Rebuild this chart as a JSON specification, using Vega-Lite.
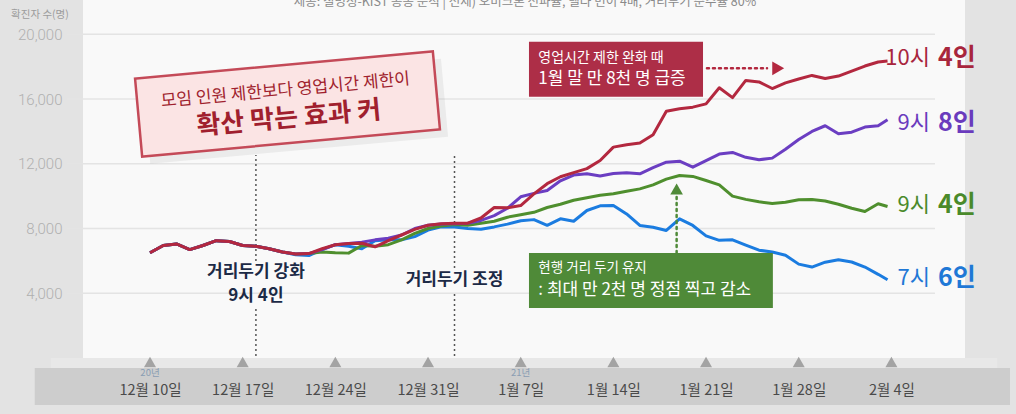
{
  "$schema": "https://vega.github.io/schema/vega-lite/v6.json",
  "width": 882,
  "height": 358,
  "autosize": {"type": "none"},
  "padding": {"left": 83, "top": 0, "right": 51, "bottom": 56},
  "background": "#e3e3e3",
  "config": {"view": {"fill": "#f9f9f9", "stroke": null}, "font": "Noto Sans CJK KR"},
  "datasets": {
    "lines": [
      {"s":"7시 6인","d":"2020-12-10","v":6500},{"s":"7시 6인","d":"2020-12-11","v":6950},{"s":"7시 6인","d":"2020-12-12","v":7050},{"s":"7시 6인","d":"2020-12-13","v":6700},{"s":"7시 6인","d":"2020-12-14","v":6950},{"s":"7시 6인","d":"2020-12-15","v":7250},{"s":"7시 6인","d":"2020-12-16","v":7200},{"s":"7시 6인","d":"2020-12-17","v":6950},{"s":"7시 6인","d":"2020-12-18","v":6900},{"s":"7시 6인","d":"2020-12-19","v":6750},{"s":"7시 6인","d":"2020-12-20","v":6550},
      {"s":"7시 6인","d":"2020-12-21","v":6380},{"s":"7시 6인","d":"2020-12-22","v":6330},{"s":"7시 6인","d":"2020-12-23","v":6700},{"s":"7시 6인","d":"2020-12-24","v":7000},{"s":"7시 6인","d":"2020-12-25","v":6900},{"s":"7시 6인","d":"2020-12-26","v":6750},{"s":"7시 6인","d":"2020-12-27","v":7250},{"s":"7시 6인","d":"2020-12-28","v":7300},{"s":"7시 6인","d":"2020-12-29","v":7300},{"s":"7시 6인","d":"2020-12-30","v":7500},{"s":"7시 6인","d":"2020-12-31","v":7900},
      {"s":"7시 6인","d":"2021-01-01","v":8100},{"s":"7시 6인","d":"2021-01-02","v":8100},{"s":"7시 6인","d":"2021-01-03","v":8000},{"s":"7시 6인","d":"2021-01-04","v":7950},{"s":"7시 6인","d":"2021-01-05","v":8100},{"s":"7시 6인","d":"2021-01-06","v":8270},{"s":"7시 6인","d":"2021-01-07","v":8480},{"s":"7시 6인","d":"2021-01-08","v":8550},{"s":"7시 6인","d":"2021-01-09","v":8200},{"s":"7시 6인","d":"2021-01-10","v":8600},{"s":"7시 6인","d":"2021-01-11","v":8450},{"s":"7시 6인","d":"2021-01-12","v":9115},{"s":"7시 6인","d":"2021-01-13","v":9400},{"s":"7시 6인","d":"2021-01-14","v":9420},{"s":"7시 6인","d":"2021-01-15","v":8900},{"s":"7시 6인","d":"2021-01-16","v":8190},{"s":"7시 6인","d":"2021-01-17","v":8080},{"s":"7시 6인","d":"2021-01-18","v":7880},{"s":"7시 6인","d":"2021-01-19","v":8600},{"s":"7시 6인","d":"2021-01-20","v":8190},{"s":"7시 6인","d":"2021-01-21","v":7550},{"s":"7시 6인","d":"2021-01-22","v":7270},{"s":"7시 6인","d":"2021-01-23","v":7300},{"s":"7시 6인","d":"2021-01-24","v":6970},{"s":"7시 6인","d":"2021-01-25","v":6660},{"s":"7시 6인","d":"2021-01-26","v":6550},{"s":"7시 6인","d":"2021-01-27","v":6350},{"s":"7시 6인","d":"2021-01-28","v":5800},{"s":"7시 6인","d":"2021-01-29","v":5620},{"s":"7시 6인","d":"2021-01-30","v":5920},{"s":"7시 6인","d":"2021-01-31","v":6070},{"s":"7시 6인","d":"2021-02-01","v":5930},{"s":"7시 6인","d":"2021-02-02","v":5620},{"s":"7시 6인","d":"2021-02-03","v":5170},{"s":"7시 6인","d":"2021-02-03T17:00:00Z","v":4830},

      {"s":"9시 4인","d":"2020-12-10","v":6500},{"s":"9시 4인","d":"2020-12-11","v":6950},{"s":"9시 4인","d":"2020-12-12","v":7050},{"s":"9시 4인","d":"2020-12-13","v":6700},{"s":"9시 4인","d":"2020-12-14","v":6950},{"s":"9시 4인","d":"2020-12-15","v":7250},{"s":"9시 4인","d":"2020-12-16","v":7200},{"s":"9시 4인","d":"2020-12-17","v":6950},{"s":"9시 4인","d":"2020-12-18","v":6900},{"s":"9시 4인","d":"2020-12-19","v":6750},{"s":"9시 4인","d":"2020-12-20","v":6550},
      {"s":"9시 4인","d":"2020-12-21","v":6420},{"s":"9시 4인","d":"2020-12-22","v":6450},{"s":"9시 4인","d":"2020-12-23","v":6550},{"s":"9시 4인","d":"2020-12-24","v":6500},{"s":"9시 4인","d":"2020-12-25","v":6480},{"s":"9시 4인","d":"2020-12-26","v":6950},{"s":"9시 4인","d":"2020-12-27","v":6900},{"s":"9시 4인","d":"2020-12-28","v":7000},{"s":"9시 4인","d":"2020-12-29","v":7300},{"s":"9시 4인","d":"2020-12-30","v":7700},{"s":"9시 4인","d":"2020-12-31","v":8000},
      {"s":"9시 4인","d":"2021-01-01","v":8150},{"s":"9시 4인","d":"2021-01-02","v":8250},{"s":"9시 4인","d":"2021-01-03","v":8200},{"s":"9시 4인","d":"2021-01-04","v":8330},{"s":"9시 4인","d":"2021-01-05","v":8450},{"s":"9시 4인","d":"2021-01-06","v":8700},{"s":"9시 4인","d":"2021-01-07","v":8850},{"s":"9시 4인","d":"2021-01-08","v":9000},{"s":"9시 4인","d":"2021-01-09","v":9300},{"s":"9시 4인","d":"2021-01-10","v":9500},{"s":"9시 4인","d":"2021-01-11","v":9750},{"s":"9시 4인","d":"2021-01-12","v":9900},{"s":"9시 4인","d":"2021-01-13","v":10050},{"s":"9시 4인","d":"2021-01-14","v":10150},{"s":"9시 4인","d":"2021-01-15","v":10300},{"s":"9시 4인","d":"2021-01-16","v":10450},{"s":"9시 4인","d":"2021-01-17","v":10700},{"s":"9시 4인","d":"2021-01-18","v":11050},{"s":"9시 4인","d":"2021-01-19","v":11280},{"s":"9시 4인","d":"2021-01-20","v":11220},{"s":"9시 4인","d":"2021-01-21","v":10970},{"s":"9시 4인","d":"2021-01-22","v":10700},{"s":"9시 4인","d":"2021-01-23","v":10000},{"s":"9시 4인","d":"2021-01-24","v":9800},{"s":"9시 4인","d":"2021-01-25","v":9650},{"s":"9시 4인","d":"2021-01-26","v":9550},{"s":"9시 4인","d":"2021-01-27","v":9620},{"s":"9시 4인","d":"2021-01-28","v":9780},{"s":"9시 4인","d":"2021-01-29","v":9800},{"s":"9시 4인","d":"2021-01-30","v":9700},{"s":"9시 4인","d":"2021-01-31","v":9500},{"s":"9시 4인","d":"2021-02-01","v":9250},{"s":"9시 4인","d":"2021-02-02","v":9050},{"s":"9시 4인","d":"2021-02-03","v":9530},{"s":"9시 4인","d":"2021-02-03T17:00:00Z","v":9360},

      {"s":"9시 8인","d":"2020-12-10","v":6500},{"s":"9시 8인","d":"2020-12-11","v":6950},{"s":"9시 8인","d":"2020-12-12","v":7050},{"s":"9시 8인","d":"2020-12-13","v":6700},{"s":"9시 8인","d":"2020-12-14","v":6950},{"s":"9시 8인","d":"2020-12-15","v":7250},{"s":"9시 8인","d":"2020-12-16","v":7200},{"s":"9시 8인","d":"2020-12-17","v":6950},{"s":"9시 8인","d":"2020-12-18","v":6900},{"s":"9시 8인","d":"2020-12-19","v":6750},{"s":"9시 8인","d":"2020-12-20","v":6550},
      {"s":"9시 8인","d":"2020-12-21","v":6420},{"s":"9시 8인","d":"2020-12-22","v":6450},{"s":"9시 8인","d":"2020-12-23","v":6700},{"s":"9시 8인","d":"2020-12-24","v":7000},{"s":"9시 8인","d":"2020-12-25","v":7080},{"s":"9시 8인","d":"2020-12-26","v":7150},{"s":"9시 8인","d":"2020-12-27","v":7300},{"s":"9시 8인","d":"2020-12-28","v":7400},{"s":"9시 8인","d":"2020-12-29","v":7600},{"s":"9시 8인","d":"2020-12-30","v":8000},{"s":"9시 8인","d":"2020-12-31","v":8200},
      {"s":"9시 8인","d":"2021-01-01","v":8280},{"s":"9시 8인","d":"2021-01-02","v":8300},{"s":"9시 8인","d":"2021-01-03","v":8330},{"s":"9시 8인","d":"2021-01-04","v":8500},{"s":"9시 8인","d":"2021-01-05","v":8800},{"s":"9시 8인","d":"2021-01-06","v":9250},{"s":"9시 8인","d":"2021-01-07","v":9960},{"s":"9시 8인","d":"2021-01-08","v":10170},{"s":"9시 8인","d":"2021-01-09","v":10350},{"s":"9시 8인","d":"2021-01-10","v":10950},{"s":"9시 8인","d":"2021-01-11","v":11300},{"s":"9시 8인","d":"2021-01-12","v":11380},{"s":"9시 8인","d":"2021-01-13","v":11250},{"s":"9시 8인","d":"2021-01-14","v":11400},{"s":"9시 8인","d":"2021-01-15","v":11450},{"s":"9시 8인","d":"2021-01-16","v":11380},{"s":"9시 8인","d":"2021-01-17","v":11760},{"s":"9시 8인","d":"2021-01-18","v":12100},{"s":"9시 8인","d":"2021-01-19","v":12160},{"s":"9시 8인","d":"2021-01-20","v":11790},{"s":"9시 8인","d":"2021-01-21","v":12200},{"s":"9시 8인","d":"2021-01-22","v":12600},{"s":"9시 8인","d":"2021-01-23","v":12700},{"s":"9시 8인","d":"2021-01-24","v":12400},{"s":"9시 8인","d":"2021-01-25","v":12250},{"s":"9시 8인","d":"2021-01-26","v":12350},{"s":"9시 8인","d":"2021-01-27","v":12900},{"s":"9시 8인","d":"2021-01-28","v":13500},{"s":"9시 8인","d":"2021-01-29","v":14000},{"s":"9시 8인","d":"2021-01-30","v":14350},{"s":"9시 8인","d":"2021-01-31","v":13850},{"s":"9시 8인","d":"2021-02-01","v":13950},{"s":"9시 8인","d":"2021-02-02","v":14270},{"s":"9시 8인","d":"2021-02-03","v":14350},{"s":"9시 8인","d":"2021-02-03T17:00:00Z","v":14720},

      {"s":"10시 4인","d":"2020-12-10","v":6500},{"s":"10시 4인","d":"2020-12-11","v":6950},{"s":"10시 4인","d":"2020-12-12","v":7050},{"s":"10시 4인","d":"2020-12-13","v":6700},{"s":"10시 4인","d":"2020-12-14","v":6950},{"s":"10시 4인","d":"2020-12-15","v":7250},{"s":"10시 4인","d":"2020-12-16","v":7200},{"s":"10시 4인","d":"2020-12-17","v":6950},{"s":"10시 4인","d":"2020-12-18","v":6900},{"s":"10시 4인","d":"2020-12-19","v":6750},{"s":"10시 4인","d":"2020-12-20","v":6550},
      {"s":"10시 4인","d":"2020-12-21","v":6420},{"s":"10시 4인","d":"2020-12-22","v":6450},{"s":"10시 4인","d":"2020-12-23","v":6750},{"s":"10시 4인","d":"2020-12-24","v":7000},{"s":"10시 4인","d":"2020-12-25","v":7070},{"s":"10시 4인","d":"2020-12-26","v":7090},{"s":"10시 4인","d":"2020-12-27","v":6870},{"s":"10시 4인","d":"2020-12-28","v":7250},{"s":"10시 4인","d":"2020-12-29","v":7600},{"s":"10시 4인","d":"2020-12-30","v":7950},{"s":"10시 4인","d":"2020-12-31","v":8200},
      {"s":"10시 4인","d":"2021-01-01","v":8300},{"s":"10시 4인","d":"2021-01-02","v":8330},{"s":"10시 4인","d":"2021-01-03","v":8330},{"s":"10시 4인","d":"2021-01-04","v":8650},{"s":"10시 4인","d":"2021-01-05","v":9300},{"s":"10시 4인","d":"2021-01-06","v":9280},{"s":"10시 4인","d":"2021-01-07","v":9420},{"s":"10시 4인","d":"2021-01-08","v":10140},{"s":"10시 4인","d":"2021-01-09","v":10770},{"s":"10시 4인","d":"2021-01-10","v":11200},{"s":"10시 4인","d":"2021-01-11","v":11450},{"s":"10시 4인","d":"2021-01-12","v":11700},{"s":"10시 4인","d":"2021-01-13","v":12200},{"s":"10시 4인","d":"2021-01-14","v":13030},{"s":"10시 4인","d":"2021-01-15","v":13180},{"s":"10시 4인","d":"2021-01-16","v":13280},{"s":"10시 4인","d":"2021-01-17","v":13800},{"s":"10시 4인","d":"2021-01-18","v":15250},{"s":"10시 4인","d":"2021-01-19","v":15400},{"s":"10시 4인","d":"2021-01-20","v":15500},{"s":"10시 4인","d":"2021-01-21","v":15700},{"s":"10시 4인","d":"2021-01-22","v":16700},{"s":"10시 4인","d":"2021-01-23","v":16085},{"s":"10시 4인","d":"2021-01-24","v":17150},{"s":"10시 4인","d":"2021-01-25","v":17060},{"s":"10시 4인","d":"2021-01-26","v":16650},{"s":"10시 4인","d":"2021-01-27","v":17000},{"s":"10시 4인","d":"2021-01-28","v":17240},{"s":"10시 4인","d":"2021-01-29","v":17460},{"s":"10시 4인","d":"2021-01-30","v":17270},{"s":"10시 4인","d":"2021-01-31","v":17420},{"s":"10시 4인","d":"2021-02-01","v":17720},{"s":"10시 4인","d":"2021-02-02","v":18040},{"s":"10시 4인","d":"2021-02-03","v":18290},{"s":"10시 4인","d":"2021-02-03T17:00:00Z","v":18350}
    ],
    "labels": [
      {"s":"10시 4인","a":"10시","b":"4인","d":"2021-02-06T22:00:00Z","v":18540},
      {"s":"9시 8인","a":"9시","b":"8인","d":"2021-02-06T22:00:00Z","v":14550},
      {"s":"9시 4인","a":"9시","b":"4인","d":"2021-02-06T22:00:00Z","v":9454},
      {"s":"7시 6인","a":"7시","b":"6인","d":"2021-02-06T22:00:00Z","v":4943}
    ]
  },
  "layer": [
    {
      "data": {"values": [{"d":"2020-12-02T12:00:00Z","d2":"2021-02-12T00:00:00Z","v":0,"v2":-620}]},
      "mark": {"type": "rect", "color": "#e8e8e8"},
      "encoding": {"x": {"field":"d","type":"temporal"},"x2":{"field":"d2"},"y":{"field":"v","type":"quantitative"},"y2":{"field":"v2"}}
    },
    {
      "data": {"values": [{"d":"2020-12-01T07:00:00Z","d2":"2021-02-12T23:00:00Z","v":-620,"v2":-2900}]},
      "mark": {"type": "rect", "color": "#cdcdcd"},
      "encoding": {"x": {"field":"d","type":"temporal"},"x2":{"field":"d2"},"y":{"field":"v","type":"quantitative"},"y2":{"field":"v2"}}
    },
    {
      "data": {"values": [{"v":4000},{"v":8000},{"v":12000},{"v":16000},{"v":20000}]},
      "mark": {"type": "rule", "color": "#e4e4e4", "strokeWidth": 1.5},
      "encoding": {
        "x": {"datum": {"year":2020,"month":12,"date":3,"hours":17,"minutes":30,"utc":true},"type":"temporal"},
        "x2": {"datum": {"year":2021,"month":2,"date":7,"hours":7,"utc":true}},
        "y": {"field":"v","type":"quantitative"}
      }
    },
    {
      "data": {"values": [{"d":"2020-12-18","v":5994,"v2":12543},{"d":"2020-12-18","v":120,"v2":3150},{"d":"2021-01-02","v":5561,"v2":12543},{"d":"2021-01-02","v":120,"v2":4078}]},
      "mark": {"type": "rule", "color": "#555555", "strokeWidth": 1.5, "strokeDash": [2, 3]},
      "encoding": {"x": {"field":"d","type":"temporal"},"y":{"field":"v","type":"quantitative"},"y2":{"field":"v2"}}
    },
    {
      "data": {"name": "lines"},
      "transform": [{"filter": "datum.s === '7시 6인'"}],
      "mark": {"type": "line", "color": "#1b7ce0", "strokeWidth": 3, "strokeJoin": "round"},
      "encoding": {
        "x": {"field":"d","type":"temporal",
          "scale": {"type":"utc","domain":[{"year":2020,"month":12,"date":4,"hours":22,"minutes":32,"utc":true},{"year":2021,"month":2,"date":9,"hours":13,"minutes":26,"utc":true}]},
          "axis": {"values":[{"year":2020,"month":12,"date":10,"utc":true},{"year":2020,"month":12,"date":17,"utc":true},{"year":2020,"month":12,"date":24,"utc":true},{"year":2020,"month":12,"date":31,"utc":true},{"year":2021,"month":1,"date":7,"utc":true},{"year":2021,"month":1,"date":14,"utc":true},{"year":2021,"month":1,"date":21,"utc":true},{"year":2021,"month":1,"date":28,"utc":true},{"year":2021,"month":2,"date":4,"utc":true}],
            "labelExpr": "utcFormat(datum.value, '%-m월 %-d일')",
            "labelPadding": 32, "labelBaseline": "middle", "labelFontSize": 14.5, "labelColor": "#4a4a4a", "labelFont": "Noto Sans CJK KR",
            "ticks": false, "tickSize": 0, "domain": false, "grid": false, "title": null, "labelOverlap": false, "labelFlush": false, "zindex": 2}},
        "y": {"field":"v","type":"quantitative",
          "scale": {"domain":[0,22120],"nice":false,"zero":false},
          "axis": {"values":[4000,8000,12000,16000,20000],"format":",d","grid":false,"domain":false,"ticks":false,"tickSize":0,"labelPadding":21,"labelFont":"Roboto","labelFontSize":15,"labelFontWeight":300,"labelColor":"#b0b0b0","title":null,"zindex":2}}
      }
    },
    {
      "data": {"name": "lines"},
      "transform": [{"filter": "datum.s === '9시 4인'"}],
      "mark": {"type": "line", "color": "#4f8f2e", "strokeWidth": 3, "strokeJoin": "round"},
      "encoding": {"x": {"field":"d","type":"temporal"},"y":{"field":"v","type":"quantitative"}}
    },
    {
      "data": {"name": "lines"},
      "transform": [{"filter": "datum.s === '9시 8인'"}],
      "mark": {"type": "line", "color": "#6b3ec2", "strokeWidth": 3, "strokeJoin": "round"},
      "encoding": {"x": {"field":"d","type":"temporal"},"y":{"field":"v","type":"quantitative"}}
    },
    {
      "data": {"name": "lines"},
      "transform": [{"filter": "datum.s === '10시 4인'"}],
      "mark": {"type": "line", "color": "#b3283f", "strokeWidth": 3, "strokeJoin": "round"},
      "encoding": {"x": {"field":"d","type":"temporal"},"y":{"field":"v","type":"quantitative"}}
    },
    {
      "data": {"values": [{"d":"2020-12-10","v":-250},{"d":"2020-12-17","v":-250},{"d":"2020-12-24","v":-250},{"d":"2020-12-31","v":-250},{"d":"2021-01-07","v":-250},{"d":"2021-01-14","v":-250},{"d":"2021-01-21","v":-250},{"d":"2021-01-28","v":-250},{"d":"2021-02-04","v":-250}]},
      "mark": {"type": "point", "shape": "triangle-up", "filled": true, "color": "#a3a3a3", "size": 144, "opacity": 1},
      "encoding": {"x": {"field":"d","type":"temporal"},"y":{"field":"v","type":"quantitative"}}
    },
    {
      "data": {"values": [{"d":"2020-12-10","v":-910,"t":"20년"},{"d":"2021-01-07","v":-910,"t":"21년"}]},
      "mark": {"type": "text", "fontSize": 9.5, "color": "#8a9db3", "baseline": "middle"},
      "encoding": {"x": {"field":"d","type":"temporal"},"y":{"field":"v","type":"quantitative"},"text":{"field":"t"}}
    },
    {
      "data": {"values": [{"d":"2020-12-21T00:00:00Z","v":15250}]},
      "mark": {"type": "point", "shape": "M-1,-0.262L1,-0.262L1,0.262L-1,0.262Z", "size": 89401, "angle": -5.2, "filled": true, "fill": "#888888", "opacity": 0.12, "strokeWidth": 0},
      "encoding": {"x": {"field":"d","type":"temporal"},"y":{"field":"v","type":"quantitative"}}
    },
    {
      "data": {"values": [{"d":"2020-12-20T09:15:00Z","v":15695}]},
      "mark": {"type": "point", "shape": "M-1,-0.262L1,-0.262L1,0.262L-1,0.262Z", "size": 89401, "angle": -5.2, "filled": true, "fill": "#fbe4e4", "stroke": "#c44a58", "strokeWidth": 2.5, "opacity": 1},
      "encoding": {"x": {"field":"d","type":"temporal"},"y":{"field":"v","type":"quantitative"}}
    },
    {
      "data": {"values": [{"d":"2020-12-20T05:30:00Z","v":16529,"t":"모임 인원 제한보다 영업시간 제한이"}]},
      "mark": {"type": "text", "fontSize": 17, "color": "#a01f2e", "angle": -5.2, "align": "center", "baseline": "middle"},
      "encoding": {"x": {"field":"d","type":"temporal"},"y":{"field":"v","type":"quantitative"},"text":{"field":"t"}}
    },
    {
      "data": {"values": [{"d":"2020-12-20T12:00:00Z","v":14799,"t":"확산 막는 효과 커"}]},
      "mark": {"type": "text", "fontSize": 26, "fontWeight": "bold", "color": "#a01f2e", "angle": -5.2, "align": "center", "baseline": "middle"},
      "encoding": {"x": {"field":"d","type":"temporal"},"y":{"field":"v","type":"quantitative"},"text":{"field":"t"}}
    },
    {
      "data": {"values": [{"d":"2021-01-07T15:00:00Z","d2":"2021-01-20T18:30:00Z","v":19544,"v2":16146}]},
      "mark": {"type": "rect", "color": "#ad2e47"},
      "encoding": {"x": {"field":"d","type":"temporal"},"x2":{"field":"d2"},"y":{"field":"v","type":"quantitative"},"y2":{"field":"v2"}}
    },
    {
      "data": {"values": [{"d":"2021-01-08T08:00:00Z","v":18519,"t":"영업시간 제한 완화 때"}]},
      "mark": {"type": "text", "fontSize": 14, "color": "#ffffff", "align": "left", "baseline": "middle"},
      "encoding": {"x": {"field":"d","type":"temporal"},"y":{"field":"v","type":"quantitative"},"text":{"field":"t"}}
    },
    {
      "data": {"values": [{"d":"2021-01-08T08:00:00Z","v":17221,"t":"1월 말 만 8천 명 급증"}]},
      "mark": {"type": "text", "fontSize": 17, "color": "#ffffff", "align": "left", "baseline": "middle"},
      "encoding": {"x": {"field":"d","type":"temporal"},"y":{"field":"v","type":"quantitative"},"text":{"field":"t"}}
    },
    {
      "data": {"values": [{"d":"2021-01-21T01:40:00Z","d2":"2021-01-25T14:30:00Z","v":17901}]},
      "mark": {"type": "rule", "color": "#b3283f", "strokeWidth": 2.5, "strokeDash": [2, 4], "strokeCap": "round"},
      "encoding": {"x": {"field":"d","type":"temporal"},"x2":{"field":"d2"},"y":{"field":"v","type":"quantitative"}}
    },
    {
      "data": {"values": [{"d":"2021-01-26T10:50:00Z","v":17901}]},
      "mark": {"type": "point", "shape": "triangle-right", "filled": true, "color": "#b3283f", "size": 190, "opacity": 1},
      "encoding": {"x": {"field":"d","type":"temporal"},"y":{"field":"v","type":"quantitative"}}
    },
    {
      "data": {"values": [{"d":"2021-01-07T15:00:00Z","d2":"2021-01-26T01:10:00Z","v":6488,"v2":3090}]},
      "mark": {"type": "rect", "color": "#4f8a38"},
      "encoding": {"x": {"field":"d","type":"temporal"},"x2":{"field":"d2"},"y":{"field":"v","type":"quantitative"},"y2":{"field":"v2"}}
    },
    {
      "data": {"values": [{"d":"2021-01-08T08:00:00Z","v":5561,"t":"현행 거리 두기 유지"}]},
      "mark": {"type": "text", "fontSize": 13.5, "color": "#ffffff", "align": "left", "baseline": "middle"},
      "encoding": {"x": {"field":"d","type":"temporal"},"y":{"field":"v","type":"quantitative"},"text":{"field":"t"}}
    },
    {
      "data": {"values": [{"d":"2021-01-08T08:00:00Z","v":4202,"t":": 최대 만 2천 명 정점 찍고 감소"}]},
      "mark": {"type": "text", "fontSize": 17, "color": "#ffffff", "align": "left", "baseline": "middle"},
      "encoding": {"x": {"field":"d","type":"temporal"},"y":{"field":"v","type":"quantitative"},"text":{"field":"t"}}
    },
    {
      "data": {"values": [{"d":"2021-01-18T18:40:00Z","v":6488,"v2":10010}]},
      "mark": {"type": "rule", "color": "#4f8a38", "strokeWidth": 2.5, "strokeDash": [2, 4], "strokeCap": "round"},
      "encoding": {"x": {"field":"d","type":"temporal"},"y":{"field":"v","type":"quantitative"},"y2":{"field":"v2"}}
    },
    {
      "data": {"values": [{"d":"2021-01-18T18:40:00Z","v":10443}]},
      "mark": {"type": "point", "shape": "triangle-up", "filled": true, "color": "#4f8a38", "size": 160, "opacity": 1},
      "encoding": {"x": {"field":"d","type":"temporal"},"y":{"field":"v","type":"quantitative"}}
    },
    {
      "data": {"values": [{"d":"2020-12-18","v":5333,"t":"거리두기 강화"},{"d":"2020-12-18","v":3831,"t":"9시 4인"},{"d":"2021-01-02","v":4820,"t":"거리두기 조정"}]},
      "mark": {"type": "text", "fontSize": 17, "fontWeight": "bold", "color": "#1c2a46", "align": "center", "baseline": "middle"},
      "encoding": {"x": {"field":"d","type":"temporal"},"y":{"field":"v","type":"quantitative"},"text":{"field":"t"}}
    },
    {
      "data": {"name": "labels"},
      "mark": {"type": "text", "fontSize": 22, "align": "right", "baseline": "middle"},
      "encoding": {"x": {"field":"d","type":"temporal"},"y":{"field":"v","type":"quantitative"},"text":{"field":"a"},
        "color": {"field":"s","type":"nominal","legend":null,"scale":{"domain":["10시 4인","9시 8인","9시 4인","7시 6인"],"range":["#a8263d","#6a3bbd","#4a8a2b","#1f78d6"]}}}
    },
    {
      "data": {"name": "labels"},
      "mark": {"type": "text", "fontSize": 25, "fontWeight": "bold", "align": "left", "baseline": "middle", "dx": 8},
      "encoding": {"x": {"field":"d","type":"temporal"},"y":{"field":"v","type":"quantitative"},"text":{"field":"b"},
        "color": {"field":"s","type":"nominal","legend":null}}
    },
    {
      "data": {"values": [{"d":"2021-01-07T07:40:00Z","v":21997,"t":"제공: 질병청-KIST 공동 분석  |  전제) 오미크론 전파율, 델타 변이 4배, 거리두기 준수율 80%"}]},
      "mark": {"type": "text", "fontSize": 12.5, "color": "#8a8a8a", "align": "center", "baseline": "middle"},
      "encoding": {"x": {"field":"d","type":"temporal"},"y":{"field":"v","type":"quantitative"},"text":{"field":"t"}}
    },
    {
      "data": {"values": [{"d":"2020-12-01T16:30:00Z","v":21194,"t":"확진자 수(명)"}]},
      "mark": {"type": "text", "fontSize": 10.5, "color": "#9c9c9c", "align": "center", "baseline": "middle"},
      "encoding": {"x": {"field":"d","type":"temporal"},"y":{"field":"v","type":"quantitative"},"text":{"field":"t"}}
    }
  ]
}
